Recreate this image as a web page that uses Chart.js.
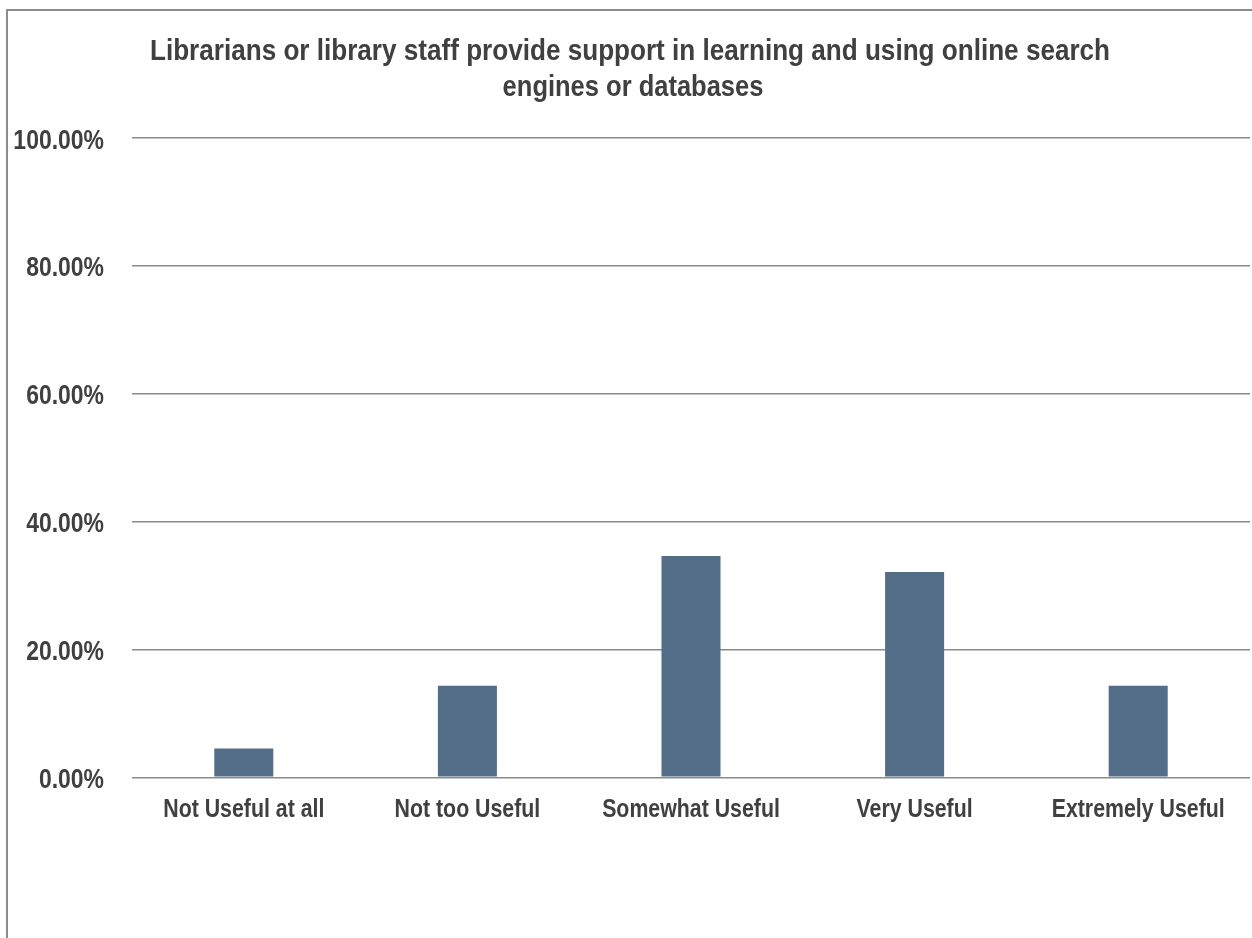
<!DOCTYPE html>
<html>
<head>
<meta charset="utf-8">
<title>Library support chart</title>
<script src="https://cdn.jsdelivr.net/npm/chart.js@4.4.1/dist/chart.umd.min.js"></script>
<style>
    html, body { margin: 0; padding: 0; background: #fff; }
    #wrap { position: relative; width: 1252px; height: 938px; overflow: hidden; }
    #frame {
        position: absolute; left: 6px; top: 9px;
        width: 1400px; height: 1100px;
        border: 2px solid #8c8c8c; box-sizing: border-box;
    }
    #chart { position: absolute; left: 0; top: 0; }
</style>
</head>
<body>
<div id="wrap">
    <div id="frame"></div>
    <canvas id="chart" width="1252" height="938"></canvas>
</div>
<script>
// Chart data
const categories = ['Not Useful at all', 'Not too Useful', 'Somewhat Useful', 'Very Useful', 'Extremely Useful'];
const percentages = [4.5, 14.3, 34.6, 32.1, 14.3];
const yTicks = [0, 20, 40, 60, 80, 100];
const titleLines = [
    'Librarians or library staff provide support in learning and using online search',
    'engines or databases'
];

const FONT = "'Liberation Sans', Arial, sans-serif";
const TEXT = '#404040';
const NARROW = 0.82;   // squeeze Liberation Sans to look like Arial Narrow

// write a line of text squeezed horizontally
function narrowText(ctx, text, x, y, align, squeeze) {
    ctx.save();
    ctx.translate(x, y);
    ctx.scale(squeeze || NARROW, 1);
    ctx.textAlign = align;
    ctx.fillText(text, 0, 0);
    ctx.restore();
}

// Draws the title and the axis labels in a narrow face
const labelPlugin = {
    id: 'narrowLabels',
    afterDraw(chart) {
        const ctx = chart.ctx;
        const xScale = chart.scales.x;
        const yScale = chart.scales.y;
        ctx.save();
        ctx.fillStyle = TEXT;
        ctx.textBaseline = 'alphabetic';

        // title
        ctx.font = 'bold 30px ' + FONT;
        narrowText(ctx, titleLines[0], 630, 60, 'center', 0.87);
        narrowText(ctx, titleLines[1], 633, 96, 'center', 0.85);

        // y tick labels
        ctx.font = 'bold 28px ' + FONT;
        yScale.ticks.forEach((t, i) => {
            const y = yScale.getPixelForTick(i);
            narrowText(ctx, t.value.toFixed(2) + '%', 104, y + 11, 'right');
        });

        // category labels
        ctx.font = 'bold 26px ' + FONT;
        categories.forEach((c, i) => {
            const x = xScale.getPixelForTick(i);
            narrowText(ctx, c, x, 817, 'center');
        });
        ctx.restore();
    }
};

new Chart(document.getElementById('chart'), {
    type: 'bar',
    data: {
        labels: categories,
        datasets: [{
            data: percentages,
            backgroundColor: '#546e8a',
            borderWidth: 0,
            categoryPercentage: 1,
            barPercentage: 0.264
        }]
    },
    options: {
        responsive: false,
        animation: false,
        layout: { padding: { left: 8, right: 2, top: 137.5, bottom: 0 } },
        plugins: {
            legend: { display: false },
            title: { display: false },
            tooltip: { enabled: false }
        },
        scales: {
            x: {
                grid: { display: false, drawTicks: false },
                border: { display: false },
                ticks: { display: false, autoSkip: false },
                afterFit(axis) { axis.height = 160.7; }
            },
            y: {
                min: 0,
                max: 100,
                afterBuildTicks(axis) { axis.ticks = yTicks.map(v => ({ value: v })); },
                grid: { color: '#8a8a8a', lineWidth: 1.5, drawTicks: false },
                border: { display: false },
                ticks: { display: false },
                afterFit(axis) { axis.width = 124; }
            }
        }
    },
    plugins: [labelPlugin]
});
</script>
</body>
</html>
